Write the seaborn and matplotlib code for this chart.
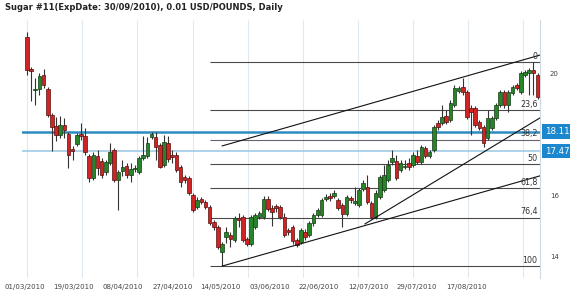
import numpy as np
import pandas as pd
import matplotlib
matplotlib.use("Agg")
import matplotlib.pyplot as plt
import matplotlib.transforms as mtransforms
import seaborn as sns

# ---------------- data ----------------
opens = [21.21, 20.16, 19.48, 19.51, 19.97, 19.51, 18.66, 18.30, 18.00, 18.33,
         18.03, 17.54, 17.70, 18.03, 17.97, 17.31, 16.59, 17.31, 17.15, 16.79,
         17.08, 17.51, 16.52, 16.82, 16.98, 16.69, 16.89, 16.79, 17.25, 17.31,
         17.93, 17.93, 17.67, 17.02, 17.74, 17.34, 17.34, 16.95, 16.62, 16.59,
         16.03, 15.64, 15.90, 15.80, 15.64, 15.15, 14.98, 14.16, 14.66, 14.72,
         14.56, 15.28, 15.31, 14.59, 14.43, 14.98, 15.31, 15.31, 15.90, 15.61,
         15.67, 15.64, 15.31, 14.89, 14.98, 14.56, 14.49, 14.82, 14.72, 15.11,
         15.38, 15.38, 15.90, 16.00, 16.00, 15.87, 15.70, 15.41, 15.93, 15.77,
         15.70, 16.23, 16.30, 15.77, 15.31, 15.97, 16.20, 16.52, 17.11, 17.15,
         16.85, 16.95, 17.08, 17.02, 17.31, 17.11, 17.57, 17.31, 17.51, 18.39,
         18.39, 18.62, 18.49, 18.98, 19.44, 19.57, 19.41, 18.89, 18.89, 18.43,
         18.26, 17.90, 18.23, 18.56, 18.98, 19.41, 18.98, 19.38, 19.64, 19.41,
         19.97, 20.03, 20.13, 19.97]
highs = [21.38, 20.23, 19.87, 20.03, 20.16, 19.57, 18.72, 18.59, 18.62, 18.56,
         18.10, 17.64, 18.07, 18.39, 18.23, 17.38, 17.44, 17.51, 17.25, 17.18,
         17.74, 17.57, 16.85, 17.18, 17.08, 17.08, 17.02, 17.31, 17.97, 17.93,
         18.10, 18.10, 17.74, 18.00, 17.97, 17.51, 17.44, 17.02, 16.69, 16.66,
         16.10, 15.97, 15.97, 15.87, 15.70, 15.21, 15.05, 14.49, 14.98, 14.82,
         15.34, 15.44, 15.38, 14.66, 15.38, 15.44, 15.51, 16.00, 16.00, 15.70,
         15.74, 15.70, 15.44, 14.95, 15.05, 14.62, 14.95, 14.92, 15.18, 15.44,
         15.61, 15.93, 16.07, 16.10, 16.20, 15.93, 15.77, 16.03, 16.00, 16.30,
         16.26, 16.52, 16.69, 15.84, 16.20, 16.69, 17.02, 17.18, 17.51, 17.34,
         17.18, 17.18, 17.25, 17.44, 17.51, 17.67, 17.64, 17.51, 18.33, 18.49,
         18.98, 18.82, 19.15, 19.64, 19.61, 19.87, 19.48, 18.98, 18.95, 18.49,
         18.33, 18.82, 18.62, 19.05, 19.48, 19.48, 19.48, 19.64, 19.70, 20.10,
         20.13, 20.20, 20.39, 20.03]
lows = [19.97, 19.11, 18.98, 19.31, 19.54, 18.59, 17.48, 17.80, 17.90, 17.90,
        16.92, 17.18, 17.64, 17.84, 17.34, 16.46, 16.52, 16.69, 16.59, 16.69,
        17.02, 16.46, 15.54, 16.66, 16.59, 16.46, 16.79, 16.72, 17.18, 17.25,
        17.87, 17.18, 16.92, 16.95, 17.11, 17.08, 16.79, 16.30, 16.43, 16.03,
        15.48, 15.57, 15.74, 15.57, 15.05, 14.89, 14.26, 13.70, 14.46, 14.33,
        14.49, 14.98, 14.49, 14.36, 14.36, 14.92, 15.25, 15.25, 15.51, 15.02,
        15.48, 15.25, 14.66, 14.72, 14.43, 14.33, 14.43, 14.56, 14.66, 15.02,
        15.31, 15.31, 15.84, 15.84, 15.93, 15.54, 14.98, 15.34, 15.77, 15.70,
        15.64, 16.16, 15.74, 15.25, 15.25, 15.90, 16.13, 16.46, 17.02, 16.52,
        16.79, 16.89, 16.85, 16.95, 17.05, 17.05, 17.25, 17.25, 17.44, 18.16,
        18.33, 18.36, 18.43, 18.92, 19.38, 19.31, 18.52, 18.00, 18.26, 18.16,
        17.61, 17.84, 18.16, 18.49, 18.92, 18.89, 18.75, 19.31, 19.48, 19.34,
        19.90, 19.31, 19.31, 19.18]
closes = [20.13, 20.10, 19.51, 19.93, 19.64, 18.66, 18.26, 18.00, 18.33, 18.16,
          17.34, 17.48, 18.00, 17.97, 17.44, 16.59, 17.34, 16.92, 16.69, 17.11,
          17.44, 16.52, 16.79, 16.95, 16.69, 16.89, 16.92, 17.25, 17.34, 17.74,
          18.03, 17.61, 16.95, 17.77, 17.21, 17.28, 16.85, 16.46, 16.52, 16.10,
          15.54, 15.87, 15.80, 15.64, 15.11, 14.98, 14.33, 14.43, 14.82, 14.59,
          15.28, 15.21, 14.56, 14.43, 15.31, 15.38, 15.44, 15.90, 15.57, 15.48,
          15.61, 15.31, 14.72, 14.82, 14.52, 14.39, 14.89, 14.66, 15.11, 15.38,
          15.54, 15.87, 15.97, 15.93, 16.10, 15.61, 15.41, 15.97, 15.87, 15.84,
          16.20, 16.43, 15.80, 15.31, 16.10, 16.62, 16.69, 17.02, 17.25, 16.59,
          17.08, 16.98, 16.95, 17.34, 17.11, 17.61, 17.31, 17.44, 18.26, 18.26,
          18.59, 18.43, 19.05, 19.54, 19.54, 19.41, 18.59, 18.75, 18.33, 18.23,
          17.74, 18.56, 18.56, 18.98, 19.41, 18.98, 19.41, 19.57, 19.54, 20.03,
          20.07, 20.13, 20.03, 19.25]

date_labels = ["01/03/2010", "19/03/2010", "08/04/2010", "27/04/2010", "14/05/2010",
               "03/06/2010", "22/06/2010", "12/07/2010", "29/07/2010", "17/08/2010"]
fib_pcts = [0, 23.6, 38.2, 50, 61.8, 76.4, 100]
fib_texts = ["0", "23,6", "38,2", "50", "61,8", "76,4", "100"]
fib_high = 20.39   # swing high (0 level)
fib_low = 13.70    # swing low (100 level)
marker_levels = [18.11, 17.47]
marker_texts = ["18.11", "17.47"]
# trend lines: (bar index, price) start and end points
trend_x0 = [47.0, 47.0, 81.4]
trend_y0 = [13.70, 17.64, 15.08]
trend_x1 = [123.6, 123.6, 123.6]
trend_y1 = [16.66, 20.62, 18.56]
title = "Sugar #11(ExpDate: 30/09/2010), 0.01 USD/POUNDS, Daily"

# ---------------- layout ----------------
sns.set_theme(style="white")
plt.rcParams['font.family'] = ['DejaVu Sans']

W, H = 570, 298
fig = plt.figure(figsize=(W / 100, H / 100), dpi=100)
fig.patch.set_facecolor("white")
ax = fig.add_axes([22 / W, 20 / H, 518 / W, 258 / H])
ax.set_facecolor("white")

xmin, xmax = -1.2, 123.6
ymin, ymax = 13.31, 21.77
ax.set_xlim(xmin, xmax)
ax.set_ylim(ymin, ymax)

# vertical grid lines
grid_pos = [0, 13.3, 26.5, 40, 53.3, 66.5, 79.8, 93, 106.3, 119.5]
ax.vlines(grid_pos, ymin, ymax, color="#e1e9f0", lw=0.8, zorder=0)

# candles
df = pd.DataFrame(dict(o=opens, h=highs, l=lows, c=closes))
df["i"] = np.arange(len(df))
up = df.c >= df.o
ax.vlines(df.i, df.l, df.h, color="#333333", lw=0.8, zorder=3)
body = np.maximum((df.c - df.o).abs(), 0.04)
ax.bar(df.i[up], body[up], bottom=df.o[up], width=0.86, color="#288428",
       edgecolor="#143a14", lw=0.5, zorder=4)
ax.bar(df.i[~up], body[~up], bottom=df.c[~up], width=0.86, color="#d02424",
       edgecolor="#561010", lw=0.5, zorder=4)

# fibonacci levels
fib_start = 44.1
for pct, txt in zip(fib_pcts, fib_texts):
    lvl = fib_high - pct / 100 * (fib_high - fib_low)
    col = "#6a6070" if pct == 38.2 else "#4a4a4a"
    ax.hlines(lvl, fib_start, xmax, color=col, lw=0.8, zorder=2)
    ax.text(123.0, lvl + 0.05, txt, ha="right", va="bottom", fontsize=5.8,
            color="#333333", zorder=6)

# trend lines via seaborn
tl = pd.DataFrame({
    "x": [v for pair in zip(trend_x0, trend_x1) for v in pair],
    "y": [v for pair in zip(trend_y0, trend_y1) for v in pair],
    "line": [k for k in range(len(trend_x0)) for _ in range(2)],
})
sns.lineplot(data=tl, x="x", y="y", units="line", estimator=None, color="#111111",
             lw=0.8, ax=ax, legend=False, zorder=5)

# blue marker lines and boxes
ax.axhline(marker_levels[0], color="#2d8bc0", lw=1.8, zorder=2.5)
ax.axhline(marker_levels[1], color="#9fcbe4", lw=1.2, zorder=2.5)
trans = mtransforms.blended_transform_factory(ax.transAxes, ax.transData)
for lvl, txt in zip(marker_levels, marker_texts):
    ax.text(1.009, lvl, txt, transform=trans, ha="left", va="center", fontsize=6.2,
            color="white", zorder=10, clip_on=False,
            bbox=dict(boxstyle="square,pad=0.32", fc="#1b87cf", ec="none"))

# axes cosmetics
ax.set_xlabel("")
ax.set_ylabel("")
ax.set_xticks([-0.5, 11.3, 23.1, 35, 46.7, 58.6, 70.4, 82.2, 94, 105.8])
ax.set_xticklabels(date_labels)
ax.yaxis.tick_right()
ax.set_yticks([14, 16, 20])
ax.set_yticklabels(["14", "16", "20"])
ax.tick_params(axis="x", length=0, pad=4, labelsize=5, labelcolor="#444444")
ax.tick_params(axis="y", length=0, pad=7, labelsize=5, labelcolor="#444444")
for s in ["top", "left", "bottom"]:
    ax.spines[s].set_visible(False)
ax.spines["right"].set_color("#d0d8e0")
ax.spines["right"].set_linewidth(0.8)

fig.text(5 / W, 1 - 8 / H, title, ha="left", va="center", fontsize=6.0,
         fontweight="bold", color="#222222")

fig.savefig("out.png", dpi=100, facecolor="white")
